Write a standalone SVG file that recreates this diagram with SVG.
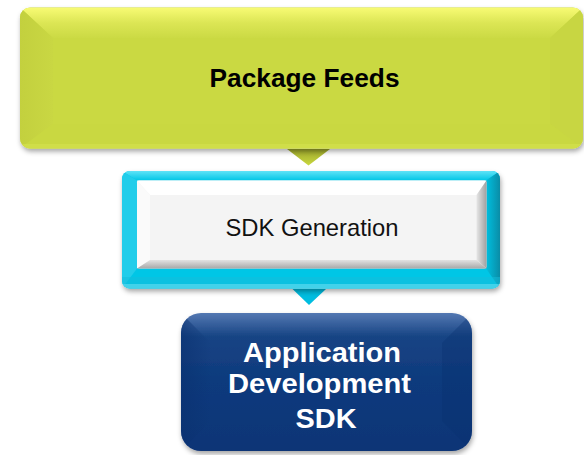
<svg xmlns="http://www.w3.org/2000/svg" width="584" height="455" viewBox="0 0 584 455">
  <style>
    .label { font-family: "Liberation Sans", Arial, sans-serif; text-anchor: middle; }
    .bold { font-weight: bold; }
  </style>
  <defs>
    <filter id="shadow" x="-10%" y="-10%" width="120%" height="130%">
      <feDropShadow dx="1" dy="3" stdDeviation="2.5" flood-color="#000" flood-opacity="0.35"/>
    </filter>
    <linearGradient id="limeTop" x1="0" y1="0" x2="0" y2="1">
      <stop offset="0" stop-color="#F8FB74"/>
      <stop offset="0.5" stop-color="#DCE655"/>
      <stop offset="1" stop-color="#CBDA44"/>
    </linearGradient>
    <linearGradient id="limeLeft" x1="0" y1="0" x2="1" y2="0">
      <stop offset="0" stop-color="#C3D03E"/>
      <stop offset="1" stop-color="#C9D743"/>
    </linearGradient>
    <linearGradient id="limeArrow" x1="0" y1="0" x2="0" y2="1">
      <stop offset="0" stop-color="#9BA52A"/>
      <stop offset="1" stop-color="#CAD940"/>
    </linearGradient>
    <linearGradient id="cyanTop" x1="0" y1="0" x2="0" y2="1">
      <stop offset="0" stop-color="#5FE3F7"/>
      <stop offset="1" stop-color="#00C6E6"/>
    </linearGradient>
    <linearGradient id="cyanRight" x1="0" y1="0" x2="1" y2="0">
      <stop offset="0" stop-color="#00C0E0"/>
      <stop offset="1" stop-color="#0A8CA6"/>
    </linearGradient>
    <linearGradient id="greyRight" x1="0" y1="0" x2="1" y2="0">
      <stop offset="0" stop-color="#E6E6E6"/>
      <stop offset="1" stop-color="#A0A0A0"/>
    </linearGradient>
    <linearGradient id="greyBottom" x1="0" y1="0" x2="0" y2="1">
      <stop offset="0" stop-color="#E2E2E2"/>
      <stop offset="1" stop-color="#A8A8A8"/>
    </linearGradient>
    <linearGradient id="navyFill" x1="0" y1="0" x2="0" y2="1">
      <stop offset="0" stop-color="#5478B2"/>
      <stop offset="0.17" stop-color="#174484"/>
      <stop offset="0.5" stop-color="#0E3A7D"/>
      <stop offset="1" stop-color="#0C3576"/>
    </linearGradient>
    <linearGradient id="navySide" x1="0" y1="0" x2="1" y2="0">
      <stop offset="0" stop-color="#0A3170" stop-opacity="0.6"/>
      <stop offset="1" stop-color="#0A3170" stop-opacity="0"/>
    </linearGradient>
    <clipPath id="clipTop"><rect x="20" y="7.5" width="563" height="141" rx="10"/></clipPath>
    <clipPath id="clipMid"><rect x="122" y="171" width="378" height="117.5" rx="8"/></clipPath>
    <clipPath id="clipApp"><rect x="181" y="313" width="291" height="138" rx="20"/></clipPath>
  </defs>

  <!-- flow arrows between the stages -->
  <g id="connectors">
    <polygon points="287,149 330,149 308.5,165.5" fill="url(#limeArrow)"/>
    <polygon points="292.5,289 326,289 309,305" fill="#00BDE0"/>
  </g>

  <!-- stage 1 -->
  <g id="node-package-feeds">
    <rect x="20" y="7.5" width="563" height="141" rx="10" fill="#CAD943" filter="url(#shadow)"/>
    <g clip-path="url(#clipTop)">
      <polygon points="20,7.5 583,7.5 550,38 53,38" fill="url(#limeTop)"/>
      <polygon points="20,7.5 53,38 53,124 20,148.5" fill="url(#limeLeft)"/>
      <polygon points="583,7.5 550,38 550,124 583,148.5" fill="#C8D642"/>
      <polygon points="20,148.5 53,124 550,124 583,148.5" fill="#C9D841"/>
      <rect x="20" y="144" width="563" height="5" fill="#D6E24E" opacity="0.6"/>
    </g>
    <text class="label bold" x="304.5" y="87" font-size="26" textLength="190" lengthAdjust="spacingAndGlyphs" fill="#000">Package Feeds</text>
  </g>

  <!-- stage 2 -->
  <g id="node-sdk-generation">
    <rect x="122" y="171" width="378" height="117.5" rx="8" fill="#00C6E6" filter="url(#shadow)"/>
    <g clip-path="url(#clipMid)">
      <polygon points="122,171 500,171 486,180.5 137,180.5" fill="url(#cyanTop)"/>
      <polygon points="122,171 137,180.5 137,268.5 122,288.5" fill="#22CDEA"/>
      <polygon points="500,171 486,180.5 486,268.5 500,288.5" fill="url(#cyanRight)"/>
      <rect x="122" y="277" width="378" height="12" fill="#16BCDA" opacity="0.5"/>
      <rect x="122" y="284" width="378" height="5" fill="#5AD8EE" opacity="0.7"/>
    </g>
    <rect x="137" y="180.5" width="349.5" height="88" rx="2" fill="#F4F4F4"/>
    <polygon points="137,180.5 486.5,180.5 476.5,195 150,195" fill="#FFFFFF"/>
    <polygon points="137,180.5 150,195 150,260 137,268.5" fill="#FAFAFA"/>
    <polygon points="486.5,180.5 476.5,195 476.5,260 486.5,268.5" fill="url(#greyRight)"/>
    <polygon points="137,268.5 150,260 476.5,260 486.5,268.5" fill="url(#greyBottom)"/>
    <text class="label" x="312" y="236" font-size="24" textLength="173" lengthAdjust="spacingAndGlyphs" fill="#111">SDK Generation</text>
  </g>

  <!-- stage 3 -->
  <g id="node-app-dev-sdk">
    <rect x="181" y="313" width="291" height="138" rx="20" fill="url(#navyFill)" filter="url(#shadow)"/>
    <g clip-path="url(#clipApp)">
      <polygon points="181,313 211,343 211,421 181,451" fill="url(#navySide)"/>
      <polygon points="472,313 442,343 442,421 472,451" fill="#0A3170" opacity="0.35"/>
    </g>
    <text class="label bold" fill="#FFFFFF" font-size="28.5">
      <tspan x="326" y="361.5" textLength="158" lengthAdjust="spacingAndGlyphs">Application</tspan>
      <tspan x="323.5" y="393" textLength="183" lengthAdjust="spacingAndGlyphs">Development</tspan>
      <tspan x="326" y="427.5" textLength="61" lengthAdjust="spacingAndGlyphs">SDK</tspan>
    </text>
  </g>
</svg>
